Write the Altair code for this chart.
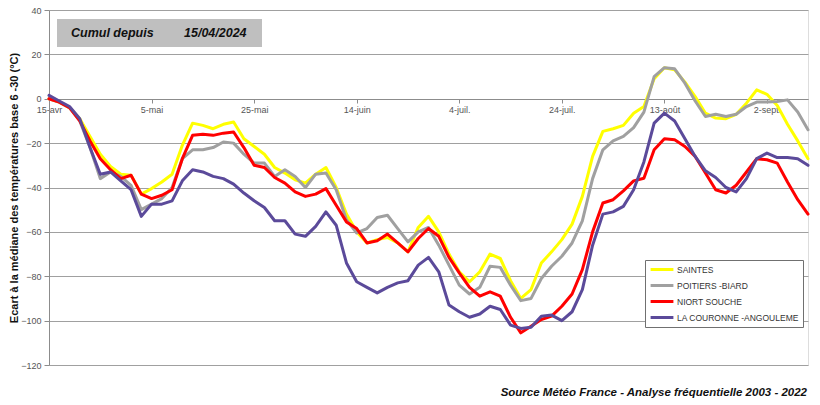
import altair as alt
import pandas as pd

# ---- data ----
days = list(range(0, 149, 2))  # days since 15/04/2024

saintes = [
    0, -1.5, -4, -9, -17, -25, -30.5, -34, -34.5, -43,
    -40.5, -37.5, -34, -21, -11, -12, -13.5, -11.5, -10.5, -18,
    -21.5, -25, -31, -33.5, -36.5, -38, -34, -31, -40, -52,
    -60, -65, -63.5, -62.5, -65, -69, -58, -53, -60, -70,
    -78, -82.5, -78, -70, -72, -82, -90, -86, -74, -69,
    -63.5, -56.5, -44, -26, -14.7, -13.5, -12, -6.5, -3.5, 9,
    14, 13, 7.5, 1, -6.5, -8.7, -9, -7, -2, 4,
    2, -3, -11.5, -19, -27,
]
poitiers = [
    0, -1.5, -4, -10, -22, -36, -33, -35, -39, -50,
    -47.5, -45, -40, -27, -23, -23, -22, -19.5, -20, -25,
    -29, -29, -35, -32, -35, -40, -34, -33.5, -41, -54.5,
    -60.5, -58.5, -53.5, -52.5, -58.5, -64.5, -60, -58, -66, -75,
    -84, -88, -85, -75.5, -76, -84, -91, -90, -81, -75.5,
    -71, -65, -55, -36, -23, -19, -17, -13, -6, 10,
    14, 13.5, 7, -1, -8, -7, -8, -7, -3.5, -1.5,
    -1.5, -1.2, -0.5, -6, -14,
]
niort = [
    0, -1.5, -4, -10, -19, -27, -32, -36, -34.5, -43,
    -45, -43.5, -41, -27, -16.5, -16, -16.5, -15.5, -15, -22,
    -30, -31, -35.5, -38, -42, -44, -43, -40.5, -48, -55.5,
    -58.5, -65, -64, -61, -65, -69, -63, -58.5, -62, -71.5,
    -78.5, -85, -89, -87, -89, -98.5, -105.5, -102.5, -99.5, -98,
    -93.5, -88, -77, -60, -47, -45.5, -41.5, -37, -35.8, -23,
    -18, -18.5, -21.5, -26, -33.5, -41, -42.5, -39, -33, -27,
    -27.5, -29, -37.5, -45.5, -52,
]
couronne = [
    1.5, -1, -3.5, -9, -22, -34, -33, -37, -41, -53,
    -47.5, -47.5, -46, -37, -32, -33, -35, -36, -38.5, -42.5,
    -46, -49, -55, -55, -61, -62, -57.5, -51, -57, -74,
    -82.5, -85, -87.5, -85, -83, -82, -75, -71.5, -78, -93,
    -96, -98.5, -97, -93.5, -95, -102, -103.5, -103, -98, -97.5,
    -100, -96, -86, -66, -52, -51, -48.5, -41, -28.5, -11,
    -6.5, -10, -18, -26, -32.5, -35.5, -40, -42, -36, -27,
    -24.5, -26.5, -26.5, -27, -30,
]

series_names = ["SAINTES", "POITIERS -BIARD", "NIORT SOUCHE", "LA COURONNE -ANGOULEME"]
series_colors = ["#FFFF00", "#A0A0A0", "#FF0000", "#5B4A9A"]

tick_days = [0, 20, 40, 60, 80, 100, 120, 140]
tick_labels = ["15-avr", "5-mai", "25-mai", "14-juin", "4-juil.", "24-juil.", "13-août", "2-sept."]
y_ticks = [-120, -100, -80, -60, -40, -20, 0, 20, 40]

title_texts = ["Cumul depuis", "15/04/2024"]
source_text = ["Source Météo France - Analyse fréquentielle 2003 - 2022"]
y_title = "Ecart à la médiane des températures base 6 -30  (°C)"

# ---- build table ----
rows = []
for i, (name, vals) in enumerate(zip(series_names, [saintes, poitiers, niort, couronne])):
    for d, v in zip(days, vals):
        rows.append({"day": d, "value": v, "station": name, "k": i})
df = pd.DataFrame(rows)

W, H = 759, 355
FONT = "Liberation Sans"
label_expr = "[" + ",".join("'" + t + "'" for t in tick_labels) + "][round(datum.value/20)]"

lines = alt.Chart(df).mark_line(strokeWidth=3, strokeJoin="round", strokeCap="round").encode(
    x=alt.X(
        "day:Q",
        scale=alt.Scale(domain=[0, 148], nice=False, zero=False),
        axis=alt.Axis(
            values=tick_days, labelExpr=label_expr, title=None, offset=-266,
            grid=False, domainColor="#8c8c8c", tickColor="#8c8c8c", tickSize=4,
            labelColor="#555555", labelFontSize=9, labelFont=FONT, labelPadding=2,
            labelFlush=False, labelOverlap=False,
        ),
    ),
    y=alt.Y(
        "value:Q",
        scale=alt.Scale(domain=[-120, 40], nice=False),
        axis=alt.Axis(
            values=y_ticks, title=y_title, titleFont=FONT, titleFontSize=11,
            titleFontWeight="bold", titleColor="#111111", titlePadding=1,
            labelColor="#555555", labelFontSize=9, labelFont=FONT, labelPadding=3,
            domainColor="#8c8c8c", tickColor="#8c8c8c", tickSize=5,
            gridColor="#a0a0a0", gridWidth=1,
        ),
    ),
    color=alt.Color(
        "station:N",
        scale=alt.Scale(domain=series_names, range=series_colors),
        legend=alt.Legend(
            title=None, orient="none", legendX=596, legendY=250, direction="vertical",
            symbolType="stroke", symbolStrokeWidth=3, symbolSize=520,
            labelFont=FONT, labelFontSize=8.5, labelColor="#333333", labelLimit=0,
            fillColor="white", strokeColor="#707070", padding=4, rowPadding=5,
            clipHeight=11, labelOffset=2,
        ),
    ),
    order=alt.Order("k:Q"),
)

box_df = pd.DataFrame({"t": [title_texts[0]]})
title_box = alt.Chart(box_df).mark_rect(color="#BFBFBF").encode(
    x=alt.value(8), x2=alt.value(213), y=alt.value(9), y2=alt.value(37)
)
t1 = alt.Chart(pd.DataFrame({"t": [title_texts[0]]})).mark_text(
    align="left", baseline="middle", font=FONT, fontSize=12.5, fontStyle="italic",
    fontWeight="bold", color="#111111"
).encode(x=alt.value(22), y=alt.value(23), text="t:N")
t2 = alt.Chart(pd.DataFrame({"t": [title_texts[1]]})).mark_text(
    align="left", baseline="middle", font=FONT, fontSize=12.5, fontStyle="italic",
    fontWeight="bold", color="#111111"
).encode(x=alt.value(135), y=alt.value(23), text="t:N")
src = alt.Chart(pd.DataFrame({"t": source_text})).mark_text(
    align="right", baseline="middle", font=FONT, fontSize=11.5, fontStyle="italic",
    fontWeight="bold", color="#111111"
).encode(x=alt.value(758), y=alt.value(383), text="t:N")

chart = alt.layer(lines, title_box, t1, t2, src).properties(
    width=W, height=H,
    autosize=alt.AutoSizeParams(type="none"),
    padding={"left": 49, "top": 10, "right": 12, "bottom": 40},
).configure_view(stroke="#8c8c8c", strokeWidth=1).configure(background="white")

chart.save("out.html", embed_options={"renderer": "svg", "actions": False})
